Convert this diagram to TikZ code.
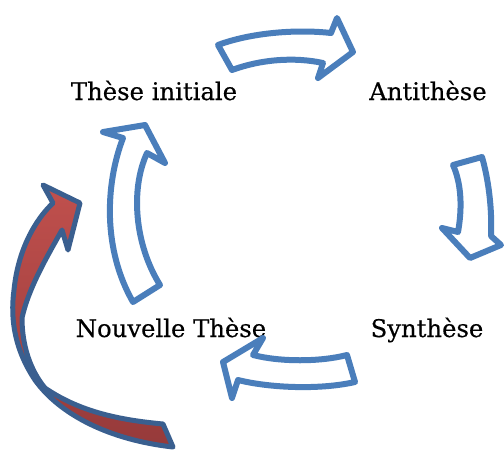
\documentclass[tikz,border=0pt]{standalone}
\usepackage{fontspec}
\setmainfont[FakeBold=0.4]{DejaVu Serif}
\definecolor{arrowblue}{HTML}{4A7EBB}
\definecolor{darkblue}{HTML}{3A5F8F}
\definecolor{redtop}{HTML}{C0504D}
\definecolor{redbot}{HTML}{963A3A}
\tikzset{
  blockarrow/.style={draw=arrowblue, fill=white, line width=6pt, line join=round},
  redarrow/.style={draw=darkblue, line width=5pt, line join=round, top color=redtop, bottom color=redbot},
  label/.style={font=\fontsize{24.3}{29}\selectfont, anchor=base, inner sep=0pt}
}
\begin{document}
\begin{tikzpicture}[x=1pt, y=-1pt]
\useasboundingbox (0,0) rectangle (504,450);
% labels
\node[label] (these) at (154,100) {Thèse initiale};
\node[label] (anti) at (428,100) {Antithèse};
\node[label] (synth) at (427,337) {Synthèse};
\node[label] (nouv) at (171,337) {Nouvelle Thèse};
% top arrow
\path[blockarrow] (218,45) .. controls (250,33) and (295,29) .. (331,33)
  -- (337,18) -- (353,52) -- (318,78) -- (323,63)
  .. controls (295,57) and (262,59) .. (232,70) -- cycle;
% right arrow
\path[blockarrow] (453,165) -- (482,157) .. controls (490,185) and (492,215) .. (491,236)
  -- (501,245) -- (470,258) -- (442,228) -- (458,232)
  .. controls (462,210) and (462,185) .. (453,165) -- cycle;
% bottom arrow
\path[blockarrow] (347,355) -- (355,382) .. controls (320,390) and (270,388) .. (238,380)
  -- (232,398) -- (223,362) -- (263,338) -- (253,355)
  .. controls (280,362) and (320,362) .. (347,355) -- cycle;
% left arrow
\path[blockarrow] (133,302) -- (160,285) .. controls (135,245) and (130,190) .. (147,153)
  -- (165,163) -- (145,125) -- (103,132) -- (123,138)
  .. controls (105,185) and (103,250) .. (133,302) -- cycle;
% red curved arrow
\path[redarrow] (80,203) -- (68,250) -- (62,230)
  .. controls (45,260) and (28,290) .. (22,318)
  .. controls (22,345) and (30,370) .. (45,388)
  .. controls (80,412) and (120,420) .. (163,424)
  -- (173,447)
  .. controls (110,440) and (60,415) .. (35,380)
  .. controls (15,350) and (10,320) .. (14,290)
  .. controls (18,250) and (35,220) .. (53,203)
  -- (43,185) -- cycle;
\end{tikzpicture}
\end{document}
